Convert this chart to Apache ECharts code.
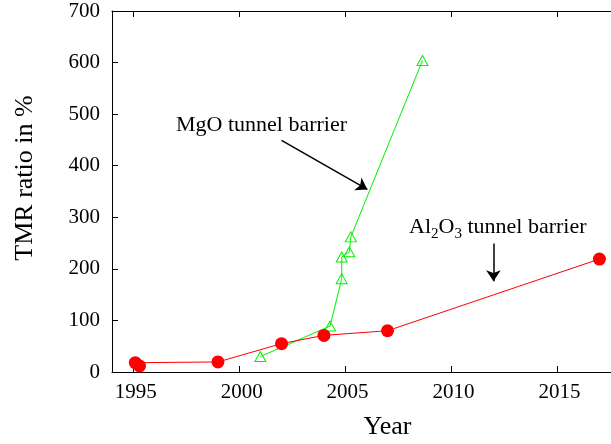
<!DOCTYPE html>
<html>
<head>
<meta charset="utf-8">
<script src="https://cdn.jsdelivr.net/npm/echarts@6/dist/echarts.min.js"></script>
<style>
  html, body { margin: 0; padding: 0; background: #fff; }
  #chart { width: 611px; height: 444px; }
</style>
</head>
<body>
<div id="chart"></div>
<script>
// TMR ratio of magnetic tunnel junctions over the years
const al2o3Years = [1995.3, 1995.1, 1999, 2002, 2004, 2007, 2017];
const al2o3Tmr   = [11.8, 18, 19.5, 55, 71, 80, 219];

const mgoYears = [2001, 2004.29, 2004.84, 2004.84, 2005.2, 2005.27, 2008.65];
const mgoTmr   = [30, 89, 181, 223, 233, 262, 604];

const yearTicks  = [1995, 2000, 2005, 2010, 2015];
const yearMarks  = [1995, 2000, 2005, 2010, 2015, 2020];

// annotation arrows: [fromYear, fromTmr, toYear, toTmr]
const mgoArrow   = [2002.0, 449, 2006.05, 354];
const al2o3Arrow = [2012.0, 249, 2012.0, 176];

const FONT = '"Liberation Serif", "Times New Roman", serif';
const GREEN = '#00f000';
const RED = '#ff0000';

const pairs = (xs, ys) => xs.map((x, i) => [x, ys[i]]);

// measure text so subscript pieces sit next to each other
const mctx = document.createElement('canvas').getContext('2d');
function textWidth(s, size) {
  mctx.font = size + 'px ' + FONT;
  return mctx.measureText(s).width;
}

// "Al2O3 tunnel barrier" with subscripts, laid out piece by piece
function subscriptLabel(pieces, x0, baseline) {
  const out = [];
  let x = x0;
  pieces.forEach(([txt, size, drop]) => {
    out.push({
      type: 'text',
      x: x,
      y: baseline + drop - 0.305 * size,
      silent: true,
      style: { text: txt, font: size + 'px ' + FONT, fill: '#000', align: 'left', verticalAlign: 'middle' }
    });
    x += textWidth(txt, size);
  });
  return out;
}

const axisCommon = {
  type: 'value',
  min: 1994,
  max: 2020,
  splitLine: { show: false },
  axisLine: { show: true, lineStyle: { color: '#000', width: 1 } },
  axisTick: { show: true, inside: true, length: 6, customValues: yearMarks, lineStyle: { color: '#000' } }
};

const arrowLine = (a) => [{ coord: [a[0], a[1]] }, { coord: [a[2], a[3]] }];

const chart = echarts.init(document.getElementById('chart'), null, { renderer: 'canvas' });
chart.setOption({
  animation: false,
  backgroundColor: '#fff',
  grid: { left: 112, top: 11, width: 551, height: 361, containLabel: false, outerBoundsMode: 'none' },
  xAxis: [
    Object.assign({}, axisCommon, {
      position: 'bottom',
      name: 'Year',
      nameLocation: 'middle',
      nameGap: 42,
      nameTextStyle: { fontFamily: FONT, fontSize: 26, color: '#000' },
      axisLabel: {
        show: true, customValues: yearTicks, fontFamily: FONT, fontSize: 21, color: '#000', margin: 10,
        padding: [0, 0, 0, 5],
        formatter: (v) => String(v)
      }
    }),
    Object.assign({}, axisCommon, {
      position: 'top',
      axisLabel: { show: false }
    })
  ],
  yAxis: [{
    type: 'value',
    min: 0,
    max: 700,
    interval: 100,
    splitLine: { show: false },
    axisLine: { show: true, lineStyle: { color: '#000', width: 1 } },
    axisTick: { show: true, inside: true, length: 6, lineStyle: { color: '#000' } },
    axisLabel: { fontFamily: FONT, fontSize: 21, color: '#000', margin: 12 }
  }],
  series: [
    {
      name: 'MgO tunnel barrier',
      type: 'line',
      data: pairs(mgoYears, mgoTmr),
      symbol: 'triangle',
      symbolSize: [11, 10],
      lineStyle: { color: GREEN, width: 1 },
      itemStyle: { color: 'rgba(0,0,0,0)', borderColor: GREEN, borderWidth: 1 },
      emphasis: { disabled: true },
      z: 2,
      markLine: {
        silent: true,
        symbol: ['none', 'arrow'],
        symbolSize: 11,
        label: { show: false },
        lineStyle: { color: '#000', width: 1.5, type: 'solid' },
        emphasis: { disabled: true },
        data: [arrowLine(mgoArrow), arrowLine(al2o3Arrow)]
      }
    },
    {
      name: 'Al2O3 tunnel barrier',
      type: 'line',
      data: pairs(al2o3Years, al2o3Tmr),
      symbol: 'circle',
      symbolSize: 13,
      lineStyle: { color: RED, width: 1 },
      itemStyle: { color: RED },
      emphasis: { disabled: true },
      z: 3
    }
  ],
  graphic: [
    {
      type: 'text',
      x: 25,
      y: 178,
      rotation: Math.PI / 2,
      silent: true,
      style: { text: 'TMR ratio in %', font: '26px ' + FONT, fill: '#000', align: 'center', verticalAlign: 'middle' }
    },
    {
      type: 'text',
      x: 176,
      y: 132 - 0.305 * 22,
      silent: true,
      style: { text: 'MgO tunnel barrier', font: '22px ' + FONT, fill: '#000', align: 'left', verticalAlign: 'middle' }
    }
  ].concat(subscriptLabel([
    ['Al', 22, 0],
    ['2', 15, 5],
    ['O', 22, 0],
    ['3', 15, 5],
    [' tunnel barrier', 22, 0]
  ], 409, 233.5))
});
</script>
</body>
</html>
